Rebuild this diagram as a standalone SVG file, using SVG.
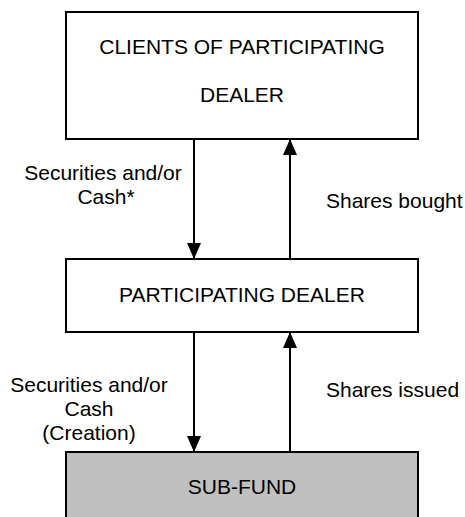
<svg xmlns="http://www.w3.org/2000/svg" width="465" height="517" viewBox="0 0 465 517">
<style>
.box{fill:#fff;stroke:#000;stroke-width:2}
.fund{fill:#c0c0c0;stroke:#000;stroke-width:2}
.t{font-family:"Liberation Sans",Arial,sans-serif;font-size:21px;fill:#000}
.c{text-anchor:middle}
.e{stroke:#000;stroke-width:2;fill:none}
</style>
<defs>
<marker id="ah" viewBox="0 0 16 16" refX="16" refY="8" markerWidth="16" markerHeight="16" markerUnits="userSpaceOnUse" orient="auto">
<path d="M0,1 L16,8 L0,15 Z" fill="#000"/>
</marker>
</defs>
<g id="clients">
<rect class="box" x="66" y="12" width="352" height="127"/>
<text class="t c" x="242" y="54">CLIENTS OF PARTICIPATING</text>
<text class="t c" x="242" y="102">DEALER</text>
</g>
<g id="dealer">
<rect class="box" x="66" y="259" width="352" height="73"/>
<text class="t c" x="242" y="302">PARTICIPATING DEALER</text>
</g>
<g id="subfund">
<rect class="fund" x="66" y="452" width="352" height="80"/>
<text class="t c" x="242" y="494">SUB-FUND</text>
</g>
<g id="connectors">
<line class="e" x1="194" y1="140" x2="194" y2="259" marker-end="url(#ah)"/>
<line class="e" x1="290" y1="259" x2="290" y2="139" marker-end="url(#ah)"/>
<line class="e" x1="194" y1="333" x2="194" y2="452" marker-end="url(#ah)"/>
<line class="e" x1="290" y1="452" x2="290" y2="332" marker-end="url(#ah)"/>
<text class="t c" x="103" y="180">Securities and/or</text>
<text class="t c" x="106" y="204">Cash*</text>
<text class="t" x="326" y="208">Shares bought</text>
<text class="t c" x="89" y="392">Securities and/or</text>
<text class="t c" x="89" y="416">Cash</text>
<text class="t c" x="89" y="440">(Creation)</text>
<text class="t" x="326" y="397">Shares issued</text>
</g>
</svg>
